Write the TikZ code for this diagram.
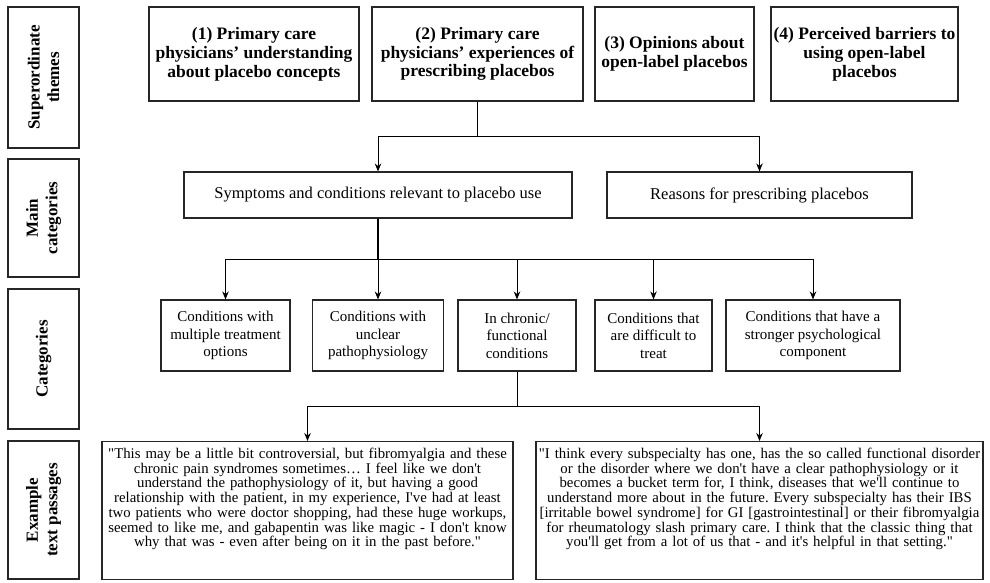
\documentclass[tikz,border=0pt]{standalone}
\usepackage{fontspec}
\setmainfont{Liberation Serif}
\usepackage{tikz}
\usetikzlibrary{arrows.meta, positioning}
\tikzset{
	box/.style={draw=black!85, line width=1.1pt, align=center, inner sep=1pt},
	rowlabel/.style={box, rotate=90, font=\fontsize{17}{19.5}\selectfont\bfseries, minimum height=71pt},
	themebox/.style={box, font=\fontsize{17.5}{18.8}\selectfont\bfseries, minimum height=94pt},
	mainbox/.style={box, font=\fontsize{16.5}{19}\selectfont, minimum height=46pt},
	catbox/.style={box, font=\fontsize{15}{17.5}\selectfont, minimum height=71pt},
	quotebox/.style={box, font=\fontsize{14.8}{14.7}\selectfont, inner sep=0pt, anchor=north, text height=17pt, text depth=121pt},
	link/.style={line width=0.9pt},
	arrow/.style={link, -{Stealth[length=8pt, width=6.5pt]}}
}
\newcommand{\aq}{\textquotesingle}
\newcommand{\dq}{\textquotedbl}
\frenchspacing

\begin{document}
\begin{tikzpicture}[x=1pt, y=-1pt]
				\useasboundingbox (0,0) rectangle (990,582);
				% row labels
				\node[rowlabel, minimum width=141pt] (rowthemes) at (43.5,77.5) {Superordinate\\themes};
				\node[rowlabel, minimum width=118pt] (rowmain) at (43.5,218) {Main\\categories};
				\node[rowlabel, minimum width=140pt] (rowcats) at (43.5,359) {Categories};
				\node[rowlabel, minimum width=138pt] (rowquotes) at (43.5,510) {Example\\text passages};
				
				% superordinate themes
				\node[themebox, minimum width=210pt] (theme1) at (254,54) {(1) Primary care\\physicians’ understanding\\about placebo concepts};
				\node[themebox, minimum width=211pt] (theme2) at (477.5,54) {(2) Primary care\\physicians’ experiences of\\prescribing placebos};
				\node[themebox, minimum width=159pt] (theme3) at (674.5,54) {(3) Opinions about\\open-label placebos};
				\node[themebox, minimum width=187pt] (theme4) at (864.5,54) {(4) Perceived barriers to\\using open-label\\placebos};
				
				% main categories
				\node[mainbox, minimum width=388pt] (symptoms) at (378,195) {Symptoms and conditions relevant to placebo use};
				\node[mainbox, minimum width=305pt] (reasons) at (759.5,195) {Reasons for prescribing placebos};
				
				% categories
				\node[catbox, minimum width=129pt] (cat1) at (225.5,335.5) {Conditions with\\multiple treatment\\options};
				\node[catbox, minimum width=131pt] (cat2) at (378,335.5) {Conditions with\\unclear\\pathophysiology};
				\node[catbox, minimum width=118pt] (cat3) at (517,335.5) {In chronic/\\functional\\conditions};
				\node[catbox, minimum width=117pt] (cat4) at (653.5,335.5) {Conditions that\\are difficult to\\treat};
				\node[catbox, minimum width=174pt] (cat5) at (813,335.5) {Conditions that have a\\stronger psychological\\component};
				
				% example text passages
				\node[quotebox, text width=411pt] (quote1) at (307.5,441) {\dq This may be a little bit controversial, but fibromyalgia and these\\chronic pain syndromes sometimes… I feel like we don\aq t\\understand the pathophysiology of it, but having a good\\relationship with the patient, in my experience, I\aq ve had at least\\two patients who were doctor shopping, had these huge workups,\\seemed to like me, and gabapentin was like magic - I don\aq t know\\why that was - even after being on it in the past before.\dq};
				\node[quotebox, text width=447pt] (quote2) at (759.5,441) {\dq I think every subspecialty has one, has the so called functional disorder\\or the disorder where we don\aq t have a clear pathophysiology or it\\becomes a bucket term for, I think, diseases that we\aq ll continue to\\understand more about in the future. Every subspecialty has their IBS\\{[}irritable bowel syndrome] for GI [gastrointestinal] or their fibromyalgia\\for rheumatology slash primary care. I think that the classic thing that\\you\aq ll get from a lot of us that - and it\aq s helpful in that setting.\dq};
				
				% connectors
				\coordinate (split1) at (477.5,136);
				\coordinate (split2) at (378,259);
				\coordinate (split3) at (517,406);
				\draw[link] (theme2.south) -- (split1);
				\draw[arrow] (split1) -| (symptoms.north);
				\draw[arrow] (split1) -| (reasons.north);
				\draw[link, line width=2pt] (symptoms.south) -- (split2);
				\foreach \c in {cat1,cat2,cat3,cat4,cat5}
					\draw[arrow] (split2) -| (\c.north);
				\draw[link] (cat3.south) -- (split3);
				\draw[arrow] (split3) -| (quote1.north);
				\draw[arrow] (split3) -| (quote2.north);
\end{tikzpicture}
\end{document}
